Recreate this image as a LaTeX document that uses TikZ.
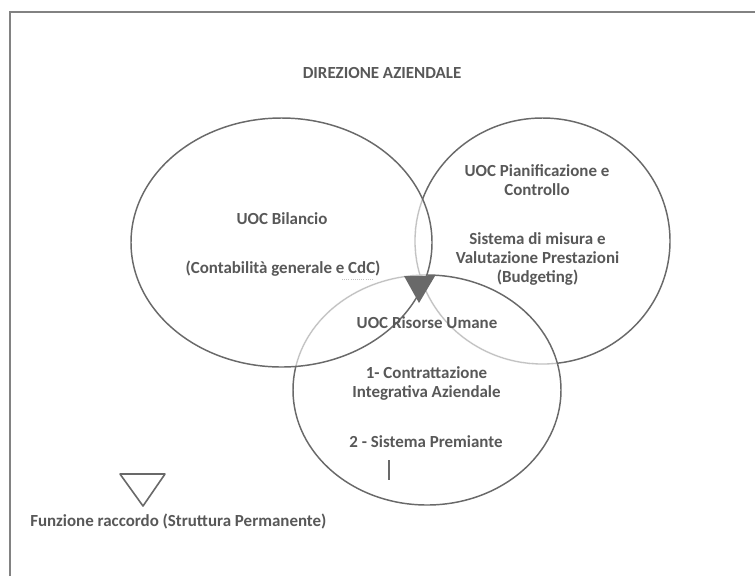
\documentclass[tikz,border=0pt]{standalone}
\usepackage{fontspec}
\setmainfont{Carlito}
\definecolor{dk}{RGB}{105,105,105}
\definecolor{lt}{RGB}{195,195,195}
\definecolor{tx}{RGB}{88,88,88}
\definecolor{fr}{RGB}{130,130,130}
\begin{document}
\begin{tikzpicture}[x=0.75pt,y=-0.75pt,
  lbl/.style={font=\bfseries\fontsize{12.7}{14.25}\selectfont, text=tx, align=center, inner sep=0pt},
  darkline/.style={draw=dk, line width=1.1pt},
  wipe/.style={draw=white, line width=2pt},
  lightline/.style={draw=lt, line width=1pt},
  framel/.style={draw=fr, line width=1.5pt}]
\useasboundingbox (0,0) rectangle (755,576);
\fill[white] (0,0) rectangle (755,576);
% frame
\draw[framel] (10,576) -- (10,12) -- (755,12);
% right and bottom ellipses (dark)
\draw[darkline] (542.5,241) ellipse [x radius=127.5, y radius=123];
\draw[darkline] (427,390) ellipse [x radius=134, y radius=115];
% parts inside the left ellipse: light
\begin{scope}
  \clip (281.5,242.5) ellipse [x radius=150.5, y radius=124.5];
  \draw[wipe] (542.5,241) ellipse [x radius=127.5, y radius=123];
  \draw[wipe] (427,390) ellipse [x radius=134, y radius=115];
  \draw[lightline] (542.5,241) ellipse [x radius=127.5, y radius=123];
  \draw[lightline] (427,390) ellipse [x radius=134, y radius=115];
\end{scope}
% right ellipse inside the bottom ellipse: light
\begin{scope}
  \clip (427,390) ellipse [x radius=133, y radius=114];
  \draw[wipe] (542.5,241) ellipse [x radius=127.5, y radius=123];
  \draw[lightline] (542.5,241) ellipse [x radius=127.5, y radius=123];
\end{scope}
% left ellipse (dark, on top)
\draw[darkline] (281.5,242.5) ellipse [x radius=150.5, y radius=124.5];
% linking function marker
\fill[dk] (404,276) -- (435,276) -- (419,303) -- cycle;
% texts
\node[lbl] (dir) at (382,73) {DIREZIONE AZIENDALE};
\node[lbl] (bil) at (282,219) {UOC Bilancio};
\node[lbl] (cont) at (283,269) {(Contabilità generale e CdC)};
\draw[lt, densely dotted, line width=0.6pt] ([xshift=-29pt,yshift=-1.5pt]cont.south east) -- ([xshift=-6pt,yshift=-1.5pt]cont.south east);
\node[lbl] (pia) at (537,180) {UOC Pianificazione e\\Controllo};
\node[lbl] (sis) at (537.5,259) {Sistema di misura e\\Valutazione Prestazioni\\(Budgeting)};
\node[lbl] (ris) at (427,323) {UOC Risorse Umane};
\node[lbl] (con) at (426.5,383.5) {1- Contrattazione\\Integrativa Aziendale};
\node[lbl] (pre) at (426,442) {2 - Sistema Premiante};
\draw[dk, line width=1.4pt] (389,460) -- (389,480);
% legend
\draw[dk, line width=1.2pt, line join=round] (120,474) -- (165,474) -- (143,506) -- cycle;
\node[lbl, anchor=west, font=\bfseries\fontsize{12.7}{15}\selectfont] (fun) at (30,521) {Funzione raccordo (Struttura Permanente)};
\end{tikzpicture}
\end{document}
